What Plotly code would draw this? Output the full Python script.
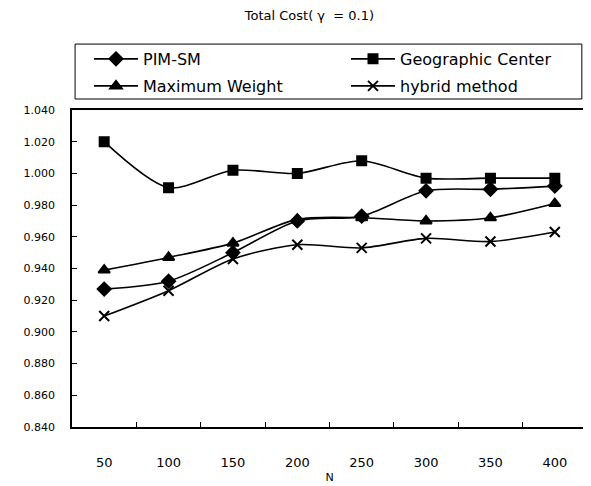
import plotly.graph_objects as go

categories = ["50", "100", "150", "200", "250", "300", "350", "400"]
pim_sm = [0.927, 0.932, 0.950, 0.970, 0.973, 0.989, 0.990, 0.992]
geo_center = [1.020, 0.991, 1.002, 1.000, 1.008, 0.997, 0.997, 0.997]
max_weight = [0.939, 0.947, 0.956, 0.971, 0.972, 0.970, 0.972, 0.981]
hybrid = [0.910, 0.926, 0.946, 0.955, 0.953, 0.959, 0.957, 0.963]
y_ticks = [0.84 + 0.02 * i for i in range(11)]

font_family = "DejaVu Sans, Liberation Sans, sans-serif"

series = [
    ("PIM-SM", pim_sm, "diamond", 10, "legend"),
    ("Geographic Center", geo_center, "square", 9, "legend"),
    ("Maximum Weight", max_weight, "triangle-up", 10, "legend2"),
    ("hybrid method", hybrid, "x-thin", 10, "legend2"),
]

fig = go.Figure()
for name, vals, sym, size, leg in series:
    fig.add_trace(go.Scatter(
        x=categories, y=vals, name=name, mode="lines+markers", legend=leg,
        line=dict(color="black", width=1.6, shape="spline", smoothing=0.8),
        marker=dict(symbol=sym, size=size, color="black",
                    line=dict(color="black", width=2)),
    ))

leg_common = dict(
    orientation="h", xref="paper", yref="paper", x=0.033, xanchor="left",
    yanchor="middle", entrywidth=198, entrywidthmode="pixels", itemwidth=44,
    borderwidth=0, bgcolor="rgba(0,0,0,0)", font=dict(size=16),
    traceorder="normal",
)

# The page body has an 8px margin, so the figure is offset by 8px.
fig.update_layout(
    width=591, height=486,
    margin=dict(l=64, r=12, t=102, b=67, autoexpand=False),
    paper_bgcolor="white", plot_bgcolor="white",
    font=dict(family=font_family, color="black", size=12),
    title=dict(text="Total Cost( γ  = 0.1)", x=0.51, xanchor="center",
               y=1 - 7 / 486, yanchor="middle", yref="container",
               font=dict(size=13)),
    legend=dict(leg_common, y=1.161),
    legend2=dict(leg_common, y=1.0757),
    shapes=[dict(type="rect", xref="paper", yref="paper",
                 x0=0.006, x1=0.990, y0=1.0347, y1=1.208,
                 line=dict(color="black", width=1))],
    showlegend=True,
)
fig.update_xaxes(
    type="category", tickson="boundaries", ticks="inside", ticklen=5,
    tickcolor="black", showline=True, linecolor="black", linewidth=1.5,
    mirror=True, showgrid=False, ticklabelstandoff=23,
    title=dict(text="N", standoff=4, font=dict(size=11)),
    tickfont=dict(size=13), range=[-0.5, 7.5],
)
fig.update_yaxes(
    range=[0.84, 1.04], tickvals=y_ticks, tickformat=".3f", ticks="inside",
    ticklen=5, tickcolor="black", showline=True, linecolor="black",
    linewidth=1.5, mirror=True, showgrid=False, zeroline=False,
    ticklabelstandoff=13, tickfont=dict(size=11),
)

fig.write_html("out.html")
